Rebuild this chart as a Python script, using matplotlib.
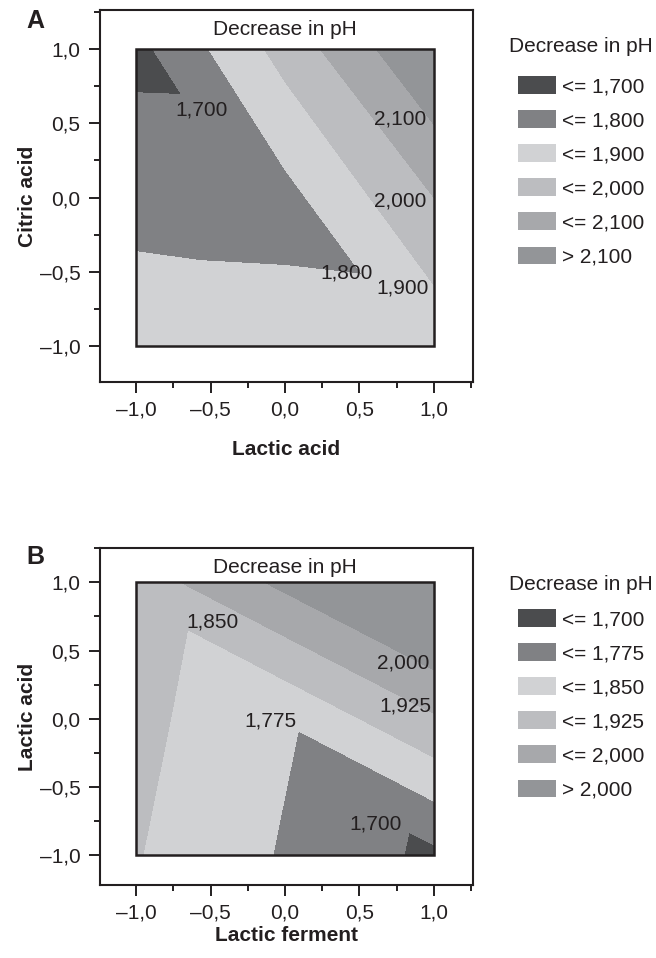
import numpy as np
import matplotlib.pyplot as plt
import matplotlib.tri as mtri
from matplotlib.patches import Patch, Rectangle
from matplotlib.ticker import FixedLocator, FuncFormatter

plt.rcParams['font.family'] = ['Liberation Sans', 'DejaVu Sans']
plt.rcParams['font.size'] = 15

# coded factor levels of the response grid
grid_x = [-1.0, 0.0, 1.0]
grid_y = [-1.0, 0.0, 1.0]

# Panel A: decrease in pH vs lactic acid (x) and citric acid (y), rows y = -1, 0, 1
ph_a = [[1.849, 1.838, 1.830],
        [1.772, 1.768, 2.000],
        [1.670, 1.937, 2.203]]
levels_a = [1.700, 1.800, 1.900, 2.000, 2.100]
clabels_a = [1.700, 2.100, 2.000, 1.800, 1.900]

# Panel B: decrease in pH vs lactic ferment (x) and lactic acid (y)
ph_b = [[1.854, 1.768, 1.683],
        [1.870, 1.784, 1.916],
        [1.885, 2.018, 2.150]]
levels_b = [1.700, 1.775, 1.850, 1.925, 2.000]
clabels_b = [1.850, 2.000, 1.925, 1.775, 1.700]

colors = ['#4b4c4e', '#808184', '#d1d2d4', '#bcbdc0', '#a7a8ab', '#939598']
ink = '#231f20'

# where the contour value labels sit
clabel_pos_a = [(-0.56, 0.59), (0.77, 0.53), (0.77, -0.02), (0.41, -0.51), (0.79, -0.61)]
clabel_pos_b = [(-0.49, 0.71), (0.79, 0.41), (0.81, 0.09), (-0.10, -0.02), (0.61, -0.77)]


def triangulate(xs, ys):
    X, Y = np.meshgrid(xs, ys)
    nx = len(xs)
    tris = []
    for j in range(len(ys) - 1):
        for i in range(nx - 1):
            bl = j * nx + i
            br = bl + 1
            tl = bl + nx
            tr = tl + 1
            tris.append([tl, tr, br])
            tris.append([tl, br, bl])
    return mtri.Triangulation(X.ravel(), Y.ravel(), tris)


def num(v, nd=3):
    return f'{v:.{nd}f}'.replace('.', ',').replace('-', '\u2013')


def draw_panel(ax, z, levels, clabels, clabel_pos, xlabel, ylabel, ylim, title_y, xpad):
    z = np.ravel(z)
    tri = triangulate(grid_x, grid_y)
    bounds = [z.min() - 1] + levels + [z.max() + 1]
    ax.tricontourf(tri, z, levels=bounds, colors=colors, antialiased=False)
    ax.add_patch(Rectangle((min(grid_x), min(grid_y)), max(grid_x) - min(grid_x),
                           max(grid_y) - min(grid_y), fill=False, edgecolor=ink, lw=1.8, zorder=3))
    for v, (x, y) in zip(clabels, clabel_pos):
        ax.text(x, y, num(v), ha='center', va='center', color=ink, zorder=4)
    ax.text(0, title_y, 'Decrease in pH', ha='center', va='center', color=ink)

    ax.set_xlim(-1.242, 1.262)
    ax.set_ylim(*ylim)
    major = [-1.0, -0.5, 0.0, 0.5, 1.0]
    minor = [-1.25, -0.75, -0.25, 0.25, 0.75, 1.25]
    for axis in (ax.xaxis, ax.yaxis):
        axis.set_major_locator(FixedLocator(major))
        axis.set_minor_locator(FixedLocator(minor))
        axis.set_major_formatter(FuncFormatter(lambda v, p: num(v, 1)))
    ax.tick_params(which='major', direction='out', length=8, width=1.4, color=ink, labelcolor=ink)
    ax.tick_params(which='minor', direction='out', length=4.5, width=1.4, color=ink)
    ax.tick_params(axis='x', pad=5)
    ax.tick_params(axis='y', pad=6)
    for s in ax.spines.values():
        s.set_linewidth(1.5)
        s.set_color(ink)
    ax.set_xlabel(xlabel, fontweight='bold', color=ink, labelpad=xpad)
    ax.set_ylabel(ylabel, fontweight='bold', color=ink, labelpad=2)


def add_legend(ax, fig, levels, title_y, top):
    handles = [Patch(facecolor=c, edgecolor='none') for c in colors]
    labels = ['<= ' + num(v) for v in levels] + ['> ' + num(levels[-1])]
    fig.text(509 / 656, 1 - title_y / 958, 'Decrease in pH', ha='left', va='center', color=ink)
    leg = ax.legend(handles, labels, loc='upper left',
                    bbox_to_anchor=(518 / 656, 1 - top / 958), bbox_transform=fig.transFigure,
                    frameon=False, handlelength=1.82, handleheight=0.95, labelspacing=0.67,
                    handletextpad=0.3, borderpad=0, borderaxespad=0, fontsize=15)
    for t in leg.get_texts():
        t.set_color(ink)


fig = plt.figure(figsize=(6.56, 9.58), dpi=100)
ax_a = fig.add_axes([100 / 656, 1 - 382 / 958, 373 / 656, 372 / 958])
ax_b = fig.add_axes([100 / 656, 1 - 885 / 958, 373 / 656, 337 / 958])

draw_panel(ax_a, ph_a, levels_a, clabels_a, clabel_pos_a, 'Lactic acid', 'Citric acid',
           (-1.242, 1.263), 1.13, 15)
draw_panel(ax_b, ph_b, levels_b, clabels_b, clabel_pos_b, 'Lactic ferment', 'Lactic acid',
           (-1.22, 1.252), 1.11, 3)
add_legend(ax_a, fig, levels_a, 47, 76)
add_legend(ax_b, fig, levels_b, 584, 609)

fig.text(35 / 656, 1 - 21 / 958, 'A', fontsize=18, fontweight='bold', ha='center', va='center', color=ink)
fig.text(35 / 656, 1 - 557 / 958, 'B', fontsize=18, fontweight='bold', ha='center', va='center', color=ink)

fig.savefig('out.png', dpi=100)
